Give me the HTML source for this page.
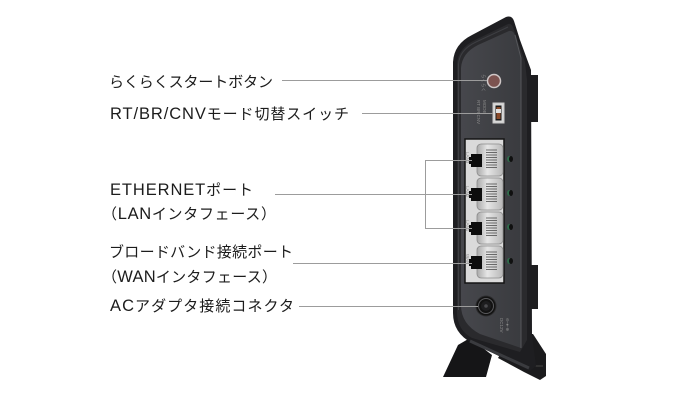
<!DOCTYPE html>
<html>
<head>
<meta charset="utf-8">
<style>
  html,body{margin:0;padding:0;background:#fff;}
  svg{display:block;}
  .lbl{font-family:"Liberation Sans","Noto Sans CJK JP",sans-serif;font-size:15px;fill:#1c1c1c;}
  .lat{font-size:16.5px;}
  .tiny{font-family:"Liberation Sans",sans-serif;font-size:4.5px;fill:#8a8a8a;}
</style>
</head>
<body>
<svg width="700" height="400" viewBox="0 0 700 400" xmlns="http://www.w3.org/2000/svg">
  <defs>
    <linearGradient id="face" x1="0" y1="0" x2="1" y2="0">
      <stop offset="0" stop-color="#46474c"/>
      <stop offset="1" stop-color="#3a3b3f"/>
    </linearGradient>
    <linearGradient id="port" x1="0" y1="0" x2="1" y2="0">
      <stop offset="0" stop-color="#a9a9a9"/>
      <stop offset="0.4" stop-color="#e6e6e6"/>
      <stop offset="1" stop-color="#b8b8b8"/>
    </linearGradient>
  </defs>

  <!-- labels -->
  <text class="lbl" x="109" y="87" textLength="164" lengthAdjust="spacing">らくらくスタートボタン</text>
  <text class="lbl" x="110" y="119" textLength="239" lengthAdjust="spacing"><tspan class="lat">RT/BR/CNV</tspan>モード切替スイッチ</text>
  <text class="lbl" x="110" y="195" textLength="143" lengthAdjust="spacing"><tspan class="lat">ETHERNET</tspan>ポート</text>
  <text class="lbl" x="102" y="219" textLength="174" lengthAdjust="spacing">（<tspan class="lat">LAN</tspan>インタフェース）</text>
  <text class="lbl" x="109" y="257" textLength="184" lengthAdjust="spacing">ブロードバンド接続ポート</text>
  <text class="lbl" x="102" y="282" textLength="175" lengthAdjust="spacing">（<tspan class="lat">WAN</tspan>インタフェース）</text>
  <text class="lbl" x="110" y="311" textLength="184" lengthAdjust="spacing"><tspan class="lat">AC</tspan>アダプタ接続コネクタ</text>

  <!-- device: stand -->
  <polygon points="443,377 458,345 470,338 492,355 486,377" fill="#151517"/>
  <polygon points="512,334 533,334 546,354 546,376 540,380 524,372 498,358" fill="#1b1b1d"/>
  <line x1="533" y1="366" x2="543" y2="366" stroke="#444" stroke-width="1"/>

  <!-- right protrusions -->
  <rect x="530" y="75" width="8" height="47" fill="#1e1e20"/>
  <rect x="530" y="265" width="8" height="44" fill="#1e1e20"/>

  <!-- outer body -->
  <path d="M506 17 Q512 15 514 21 L520 40 L531 70 L532 335 L536 366 L530 371 L472 343 Q453 333 453 313 L453 62 Q454 44 472 35 Z" fill="#1e1e21"/>
  <!-- rim band -->
  <path d="M457 312 L457 64 Q458 48 475 40 L508 24 Q511 23 513 27 L525 62 L527 80 L527 340 L520 352 L472 338 Q457 330 457 312 Z" fill="#2a2a2d"/>
  <path d="M458.5 310 L458.5 65 Q459 50 476 42 L508 27" fill="none" stroke="#3d3e42" stroke-width="1"/>
  <path d="M470 341 L529 368" fill="none" stroke="#3a3b3f" stroke-width="3"/>

  <!-- face -->
  <path d="M478 45 L509 31 Q513 30 515 35 L521 58 L521 348 L480 334 Q461 324 461 305 L461 68 Q462 53 478 45 Z" fill="url(#face)"/>
  <path d="M515 35 L521 58 L521 348" fill="none" stroke="#56575b" stroke-width="1"/>

  <!-- start button -->
  <text class="tiny" transform="translate(482,74) rotate(90)">らくらく</text>
  <circle cx="494" cy="81" r="6.5" fill="#7c5350" stroke="#cfc7c7" stroke-width="1.5"/>

  <!-- mode switch -->
  <text class="tiny" transform="translate(483,100) rotate(90)">MODE</text>
  <text class="tiny" transform="translate(477,100) rotate(90)">RT BR CNV</text>
  <rect x="493" y="103" width="11" height="20" fill="#d8d8d8" stroke="#c8c8c8" stroke-width="1"/>
  <rect x="495.5" y="105.5" width="6" height="15" fill="#1a1a1a"/>
  <rect x="496.5" y="107" width="4" height="12" fill="#8a4a2a"/>
  <rect x="496" y="109" width="5" height="4" fill="#e0e0e0"/>

  <!-- port panel -->
  <rect x="465" y="139" width="39" height="144" fill="#dadada" stroke="#151515" stroke-width="1.5"/>

  <!-- ports -->
  <g>
    <rect x="477" y="144" width="26" height="32" rx="4" fill="url(#port)" stroke="#8c8c8c" stroke-width="0.8"/>
    <g stroke="#4d4d4d" stroke-width="0.8">
      <line x1="486" y1="150" x2="497" y2="150"/><line x1="486" y1="152.5" x2="497" y2="152.5"/>
      <line x1="486" y1="155" x2="497" y2="155"/><line x1="486" y1="157.5" x2="497" y2="157.5"/>
      <line x1="486" y1="160" x2="497" y2="160"/><line x1="486" y1="162.5" x2="497" y2="162.5"/>
      <line x1="486" y1="165" x2="497" y2="165"/><line x1="486" y1="167.5" x2="497" y2="167.5"/>
    </g>
    <rect x="471" y="154" width="11" height="13" fill="#0d0d0d"/>
    <rect x="469" y="157" width="3" height="7" fill="#0d0d0d"/>
    <text class="tiny" transform="translate(466,152) rotate(90)">LAN3</text>
    <ellipse cx="509.5" cy="159" rx="2.5" ry="3" fill="#2f6b4a"/>
    <ellipse cx="511" cy="159" rx="2" ry="3" fill="#101010"/>
  </g>
  <g transform="translate(0,34)">
    <rect x="477" y="144" width="26" height="32" rx="4" fill="url(#port)" stroke="#8c8c8c" stroke-width="0.8"/>
    <g stroke="#4d4d4d" stroke-width="0.8">
      <line x1="486" y1="150" x2="497" y2="150"/><line x1="486" y1="152.5" x2="497" y2="152.5"/>
      <line x1="486" y1="155" x2="497" y2="155"/><line x1="486" y1="157.5" x2="497" y2="157.5"/>
      <line x1="486" y1="160" x2="497" y2="160"/><line x1="486" y1="162.5" x2="497" y2="162.5"/>
      <line x1="486" y1="165" x2="497" y2="165"/><line x1="486" y1="167.5" x2="497" y2="167.5"/>
    </g>
    <rect x="471" y="154" width="11" height="13" fill="#0d0d0d"/>
    <rect x="469" y="157" width="3" height="7" fill="#0d0d0d"/>
    <text class="tiny" transform="translate(466,152) rotate(90)">LAN2</text>
    <ellipse cx="509.5" cy="159" rx="2.5" ry="3" fill="#2f6b4a"/>
    <ellipse cx="511" cy="159" rx="2" ry="3" fill="#101010"/>
  </g>
  <g transform="translate(0,68)">
    <rect x="477" y="144" width="26" height="32" rx="4" fill="url(#port)" stroke="#8c8c8c" stroke-width="0.8"/>
    <g stroke="#4d4d4d" stroke-width="0.8">
      <line x1="486" y1="150" x2="497" y2="150"/><line x1="486" y1="152.5" x2="497" y2="152.5"/>
      <line x1="486" y1="155" x2="497" y2="155"/><line x1="486" y1="157.5" x2="497" y2="157.5"/>
      <line x1="486" y1="160" x2="497" y2="160"/><line x1="486" y1="162.5" x2="497" y2="162.5"/>
      <line x1="486" y1="165" x2="497" y2="165"/><line x1="486" y1="167.5" x2="497" y2="167.5"/>
    </g>
    <rect x="471" y="154" width="11" height="13" fill="#0d0d0d"/>
    <rect x="469" y="157" width="3" height="7" fill="#0d0d0d"/>
    <text class="tiny" transform="translate(466,152) rotate(90)">LAN1</text>
    <ellipse cx="509.5" cy="159" rx="2.5" ry="3" fill="#2f6b4a"/>
    <ellipse cx="511" cy="159" rx="2" ry="3" fill="#101010"/>
  </g>
  <g transform="translate(0,102)">
    <rect x="477" y="144" width="26" height="32" rx="4" fill="url(#port)" stroke="#8c8c8c" stroke-width="0.8"/>
    <g stroke="#4d4d4d" stroke-width="0.8">
      <line x1="486" y1="150" x2="497" y2="150"/><line x1="486" y1="152.5" x2="497" y2="152.5"/>
      <line x1="486" y1="155" x2="497" y2="155"/><line x1="486" y1="157.5" x2="497" y2="157.5"/>
      <line x1="486" y1="160" x2="497" y2="160"/><line x1="486" y1="162.5" x2="497" y2="162.5"/>
      <line x1="486" y1="165" x2="497" y2="165"/><line x1="486" y1="167.5" x2="497" y2="167.5"/>
    </g>
    <rect x="471" y="154" width="11" height="13" fill="#0d0d0d"/>
    <rect x="469" y="157" width="3" height="7" fill="#0d0d0d"/>
    <text class="tiny" transform="translate(466,152) rotate(90)">WAN</text>
    <ellipse cx="509.5" cy="159" rx="2.5" ry="3" fill="#2f6b4a"/>
    <ellipse cx="511" cy="159" rx="2" ry="3" fill="#101010"/>
  </g>

  <!-- AC connector -->
  <circle cx="486" cy="306" r="10" fill="#121212" stroke="#2c2c2e" stroke-width="1"/>
  <circle cx="486" cy="306" r="7.5" fill="none" stroke="#59595c" stroke-width="1"/>
  <circle cx="486" cy="306" r="5" fill="#1d1d1f"/>
  <circle cx="486" cy="306" r="1.8" fill="#4a4a4d"/>
  <text class="tiny" transform="translate(500,318) rotate(90)">DC12V</text>
  <text class="tiny" transform="translate(506,318) rotate(90)">⊖-●-⊕</text>

  <!-- leader lines -->
  <g stroke="#9c9c9c" stroke-width="1" fill="none">
    <line x1="282" y1="80.5" x2="487" y2="80.5"/>
    <line x1="362" y1="113.5" x2="493" y2="113.5"/>
    <line x1="275" y1="194.5" x2="472" y2="194.5"/>
    <line x1="425.5" y1="160" x2="425.5" y2="229"/>
    <line x1="425" y1="160.5" x2="472" y2="160.5"/>
    <line x1="425" y1="228.5" x2="472" y2="228.5"/>
    <line x1="293" y1="263.5" x2="472" y2="263.5"/>
    <line x1="299" y1="306.5" x2="478" y2="306.5"/>
  </g>
</svg>
</body>
</html>
